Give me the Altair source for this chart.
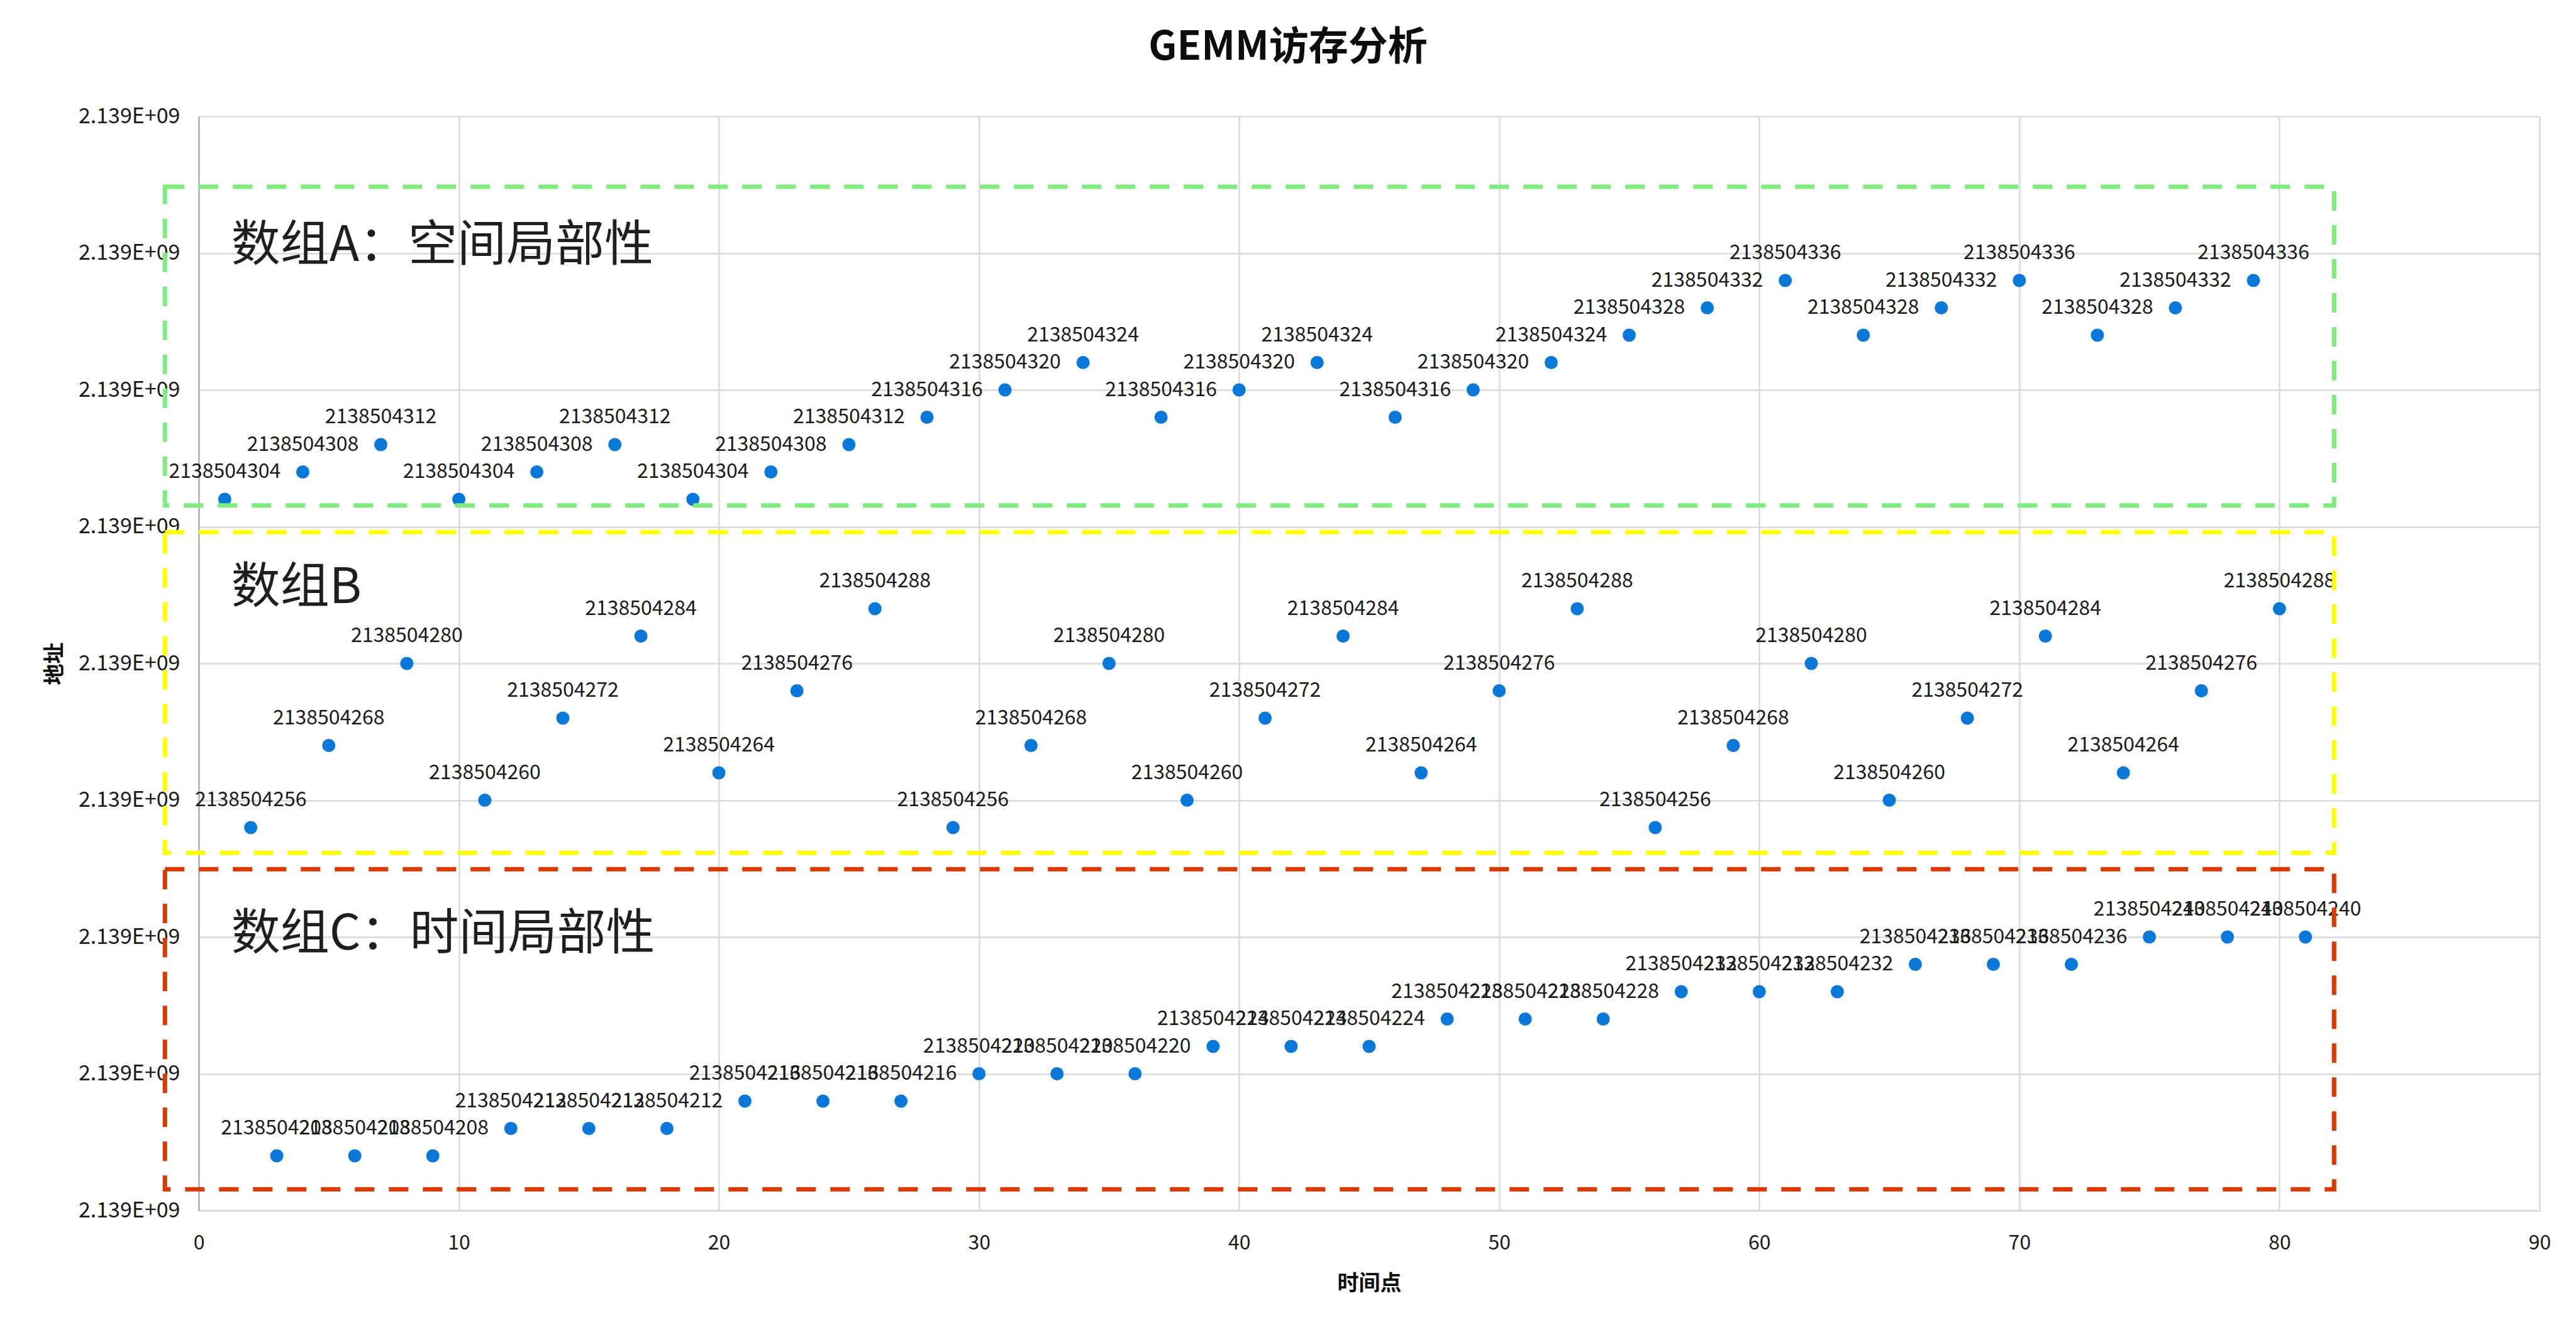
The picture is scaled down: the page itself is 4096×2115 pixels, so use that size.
import altair as alt
import pandas as pd

FONT = "Noto Sans CJK SC"

# ---- data: time points and addresses ----
time_a = [1, 4, 7, 10, 13, 16, 19, 22, 25, 28, 31, 34, 37, 40, 43, 46, 49, 52,
          55, 58, 61, 64, 67, 70, 73, 76, 79]
addr_a = [2138504304, 2138504308, 2138504312, 2138504304, 2138504308, 2138504312,
          2138504304, 2138504308, 2138504312, 2138504316, 2138504320, 2138504324,
          2138504316, 2138504320, 2138504324, 2138504316, 2138504320, 2138504324,
          2138504328, 2138504332, 2138504336, 2138504328, 2138504332, 2138504336,
          2138504328, 2138504332, 2138504336]

time_b = [2, 5, 8, 11, 14, 17, 20, 23, 26, 29, 32, 35, 38, 41, 44, 47, 50, 53,
          56, 59, 62, 65, 68, 71, 74, 77, 80]
addr_b = [2138504256, 2138504268, 2138504280, 2138504260, 2138504272, 2138504284,
          2138504264, 2138504276, 2138504288, 2138504256, 2138504268, 2138504280,
          2138504260, 2138504272, 2138504284, 2138504264, 2138504276, 2138504288,
          2138504256, 2138504268, 2138504280, 2138504260, 2138504272, 2138504284,
          2138504264, 2138504276, 2138504288]

time_c = [3, 6, 9, 12, 15, 18, 21, 24, 27, 30, 33, 36, 39, 42, 45, 48, 51, 54,
          57, 60, 63, 66, 69, 72, 75, 78, 81]
addr_c = [2138504208, 2138504208, 2138504208, 2138504212, 2138504212, 2138504212,
          2138504216, 2138504216, 2138504216, 2138504220, 2138504220, 2138504220,
          2138504224, 2138504224, 2138504224, 2138504228, 2138504228, 2138504228,
          2138504232, 2138504232, 2138504232, 2138504236, 2138504236, 2138504236,
          2138504240, 2138504240, 2138504240]

# annotation boxes (data coordinates)
box_names = ["A", "B", "C"]
box_x0 = [-1.3, -1.3, -1.3]
box_x1 = [82.1, 82.1, 82.1]
box_y0 = [2138504303.1, 2138504252.3, 2138504203.1]
box_y1 = [2138504349.7, 2138504299.2, 2138504249.9]
box_colors = ["#80EC80", "#FFFF00", "#D83B01"]

note_text = ["数组A：空间局部性", "数组B", "数组C：时间局部性"]
note_x = [1.25, 1.25, 1.25]
note_y = [2138504341.0, 2138504290.9, 2138504240.3]

x_ticks = [0, 10, 20, 30, 40, 50, 60, 70, 80, 90]
y_ticks = [2138504200, 2138504220, 2138504240, 2138504260, 2138504280,
           2138504300, 2138504320, 2138504340, 2138504360]

# ---- tables ----
pts = pd.DataFrame({
    "t": time_a + time_b + time_c,
    "addr": addr_a + addr_b + addr_c,
})
pts["label"] = pts["addr"].astype(str)

boxes = pd.DataFrame({"name": box_names, "x0": box_x0, "x1": box_x1,
                      "y0": box_y0, "y1": box_y1})
notes = pd.DataFrame({"text": note_text, "x": note_x, "y": note_y})

x_scale = alt.Scale(domain=[x_ticks[0], x_ticks[-1]], nice=False, zero=False)
y_scale = alt.Scale(domain=[y_ticks[0], y_ticks[-1]], nice=False, zero=False)

x_axis = alt.Axis(values=x_ticks, title="时间点", ticks=False, labelPadding=36,
                  titlePadding=32, domainColor="#D9D9D9", domainWidth=2.5,
                  labelFlush=False)
y_axis = alt.Axis(values=y_ticks, title="地址", ticks=False, labelPadding=30,
                  labelFontSize=34, titlePadding=20, domainColor="#A6A6A6",
                  domainWidth=2,
                  labelExpr="replace(upper(format(datum.value, '.3e')), 'E+9', 'E+09')")


def xe(field):
    return alt.X(field, type="quantitative", scale=x_scale, axis=x_axis)


def ye(field):
    return alt.Y(field, type="quantitative", scale=y_scale, axis=y_axis)


points = alt.Chart(pts).mark_circle(size=441, color="#0A78D8", opacity=1).encode(
    x=xe("t"), y=ye("addr"))

labels = alt.Chart(pts).mark_text(
    font=FONT, fontSize=32, color="#1A1A1A", dy=-44, baseline="middle", align="center"
).encode(x=xe("t"), y=ye("addr"), text=alt.Text("label:N"))

rects = alt.Chart(boxes).mark_rect(
    filled=False, strokeWidth=7, strokeDash=[31, 23]
).encode(
    x=xe("x0"), x2=alt.X2("x1"), y=ye("y0"), y2=alt.Y2("y1"),
    stroke=alt.Stroke("name:N", scale=alt.Scale(domain=box_names, range=box_colors),
                      legend=None),
)

note_marks = alt.Chart(notes).mark_text(
    font=FONT, fontSize=78, color="#1F1F1F", align="left", baseline="middle"
).encode(x=xe("x"), y=ye("y"), text="text:N")

chart = alt.layer(points, labels, rects, note_marks).properties(
    width=3722, height=1740,
    background="white",
    padding={"left": 316, "top": 185, "right": 58, "bottom": 190},
    autosize=alt.AutoSizeParams(type="none"),
    title=alt.TitleParams("GEMM访存分析", font=FONT, fontSize=63, fontWeight="bold",
                          color="#0D0D0D", anchor="middle", dx=-129, offset=60),
).configure_view(stroke=None).configure_axis(
    labelFont=FONT, labelFontSize=32, labelColor="#1A1A1A",
    titleFont=FONT, titleFontSize=34, titleFontWeight="bold", titleColor="#0D0D0D",
    gridColor="#D9D9D9", gridWidth=2.5,
)

chart.save("out.html", embed_options={"renderer": "svg", "actions": False})
